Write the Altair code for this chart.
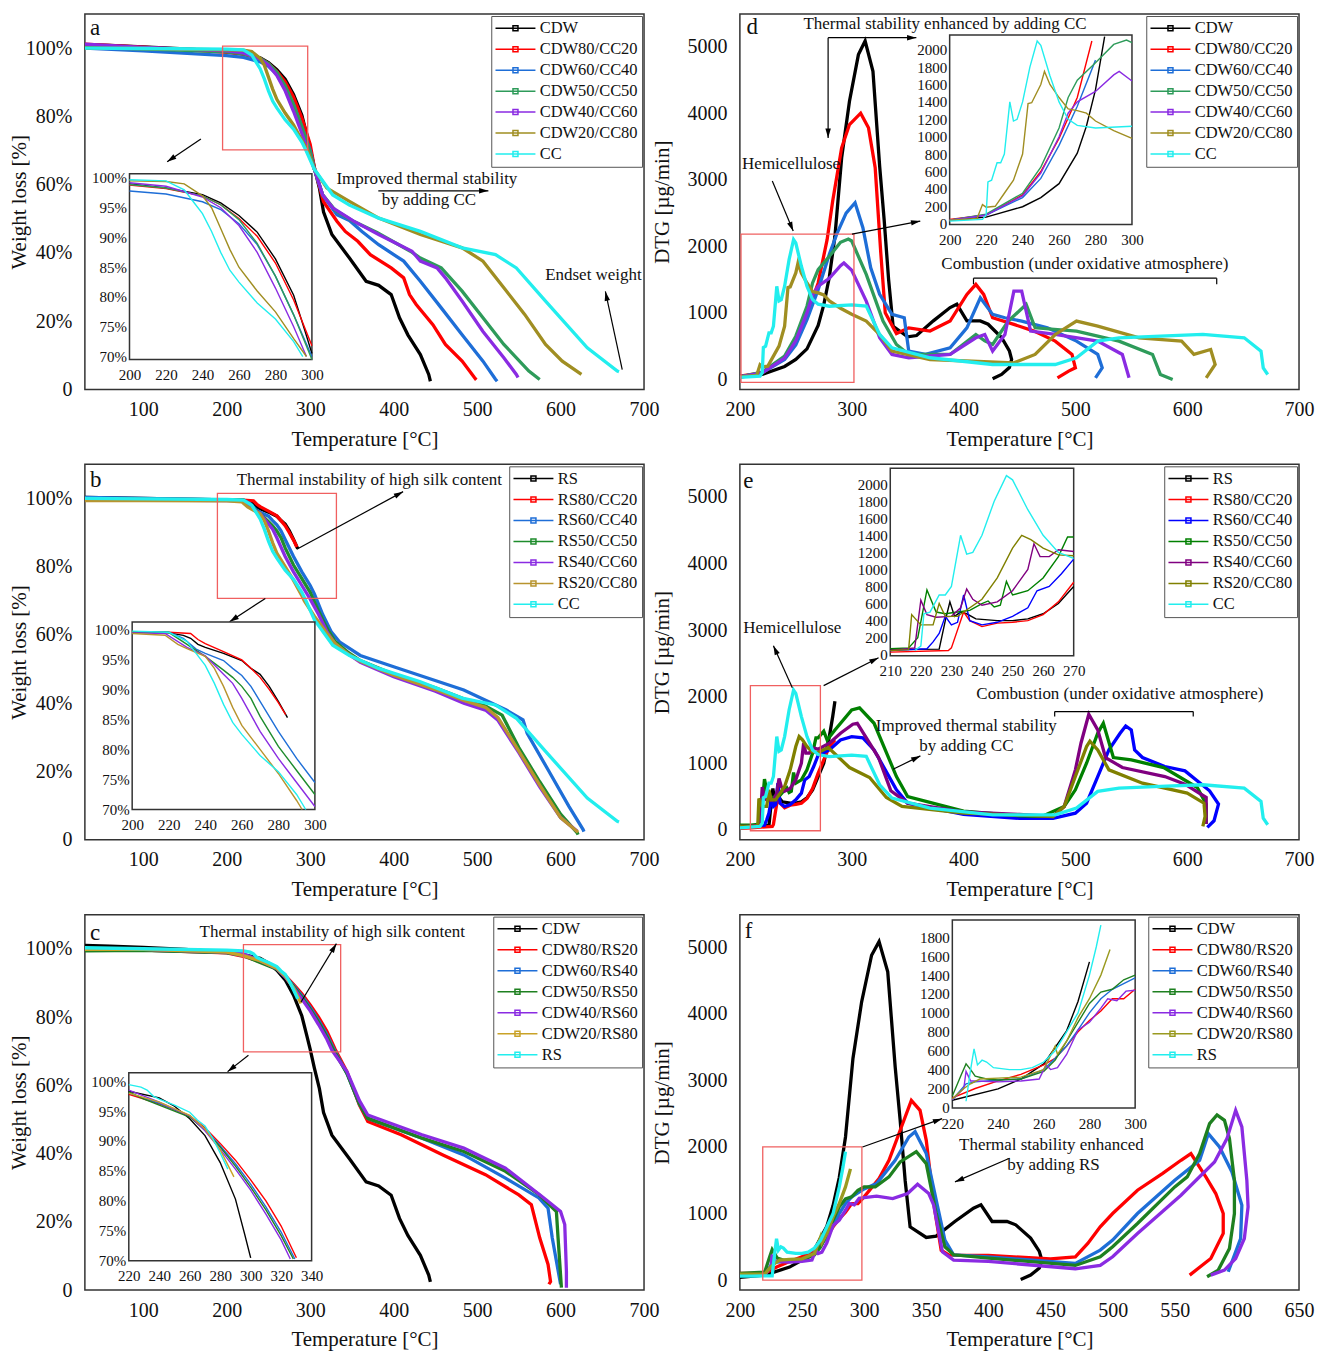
import math
import altair as alt
import pandas as pd

FONT = "Liberation Serif"
PW, PH = 560, 376
SX = PW / 564.0

# ---------------- TG data (Weight loss %) ----------------
TG_CDW_T = [30, 60, 100, 150, 200, 220, 240, 250, 260, 270, 280, 290, 296, 300, 305, 311, 316, 326, 347, 367, 382, 397, 407, 417, 432, 442, 444]
TG_CDW_W = [101.0, 100.8, 100.4, 99.8, 99.0, 98.3, 97.2, 95.8, 93.7, 90.9, 86.4, 80.3, 74.5, 70.5, 65, 59, 52, 45.4, 38.5, 31.7, 30.5, 27.8, 21, 16, 10.2, 4.4, 2.4]
TG_CC_T = [30, 100, 200, 220, 230, 235, 240, 245, 250, 255, 260, 270, 280, 290, 295, 305, 327, 347, 382, 432, 482, 522, 547, 582, 632, 668, 670]
TG_CC_W = [100.0, 99.9, 99.7, 99.5, 98.0, 96.0, 94.0, 91.0, 87.5, 84.5, 82.5, 79.0, 76.3, 72.5, 70.0, 64.5, 57, 54, 50.2, 46.3, 41.5, 39.5, 35.6, 25.9, 12.2, 5.4, 5.2]
TG_RS_T = [30, 100, 200, 220, 228, 232, 236, 240, 250, 260, 265, 270, 275, 280, 285]
TG_RS_W = [100.3, 100.0, 99.6, 99.4, 99.0, 98.5, 97.5, 97.0, 96.0, 94.8, 93.5, 92.5, 90.5, 88.0, 85.3]

A80_T = [30, 100, 200, 220, 240, 250, 260, 270, 280, 290, 300, 305, 316, 332, 342, 357, 372, 397, 412, 419, 427, 447, 462, 482, 497, 499]
A80_W = [101.2, 100.3, 98.8, 98.2, 97.0, 95.5, 93.2, 90.2, 85.7, 79.5, 71.8, 65, 55, 49.3, 46.3, 43.4, 39.5, 35.6, 32.7, 27.8, 24.9, 19, 13.2, 8.3, 3.4, 2.8]
A60_T = [30, 100, 200, 220, 240, 250, 260, 270, 280, 290, 300, 305, 315, 332, 347, 362, 382, 412, 432, 457, 482, 507, 522, 524]
A60_W = [100.0, 99.2, 97.8, 97.3, 96.0, 94.7, 92.3, 88.8, 83.5, 77.0, 70.0, 64.5, 57, 51.2, 49.5, 46.3, 42.4, 37.6, 31.7, 23.9, 16, 8.3, 3, 2.4]
A50_T = [30, 100, 200, 220, 240, 250, 260, 270, 280, 290, 300, 305, 315, 330, 350, 380, 420, 432, 457, 482, 507, 532, 562, 575]
A50_W = [100.3, 99.8, 98.9, 98.3, 97.0, 95.5, 93.0, 89.0, 83.5, 77.0, 69.5, 64.5, 57, 52.5, 49.5, 46, 40.5, 38.5, 35.6, 28.8, 21, 13.2, 5.4, 2.9]
A40_T = [30, 100, 200, 220, 240, 250, 260, 270, 280, 290, 297, 305, 315, 327, 352, 382, 422, 432, 452, 462, 482, 507, 532, 547, 549]
A40_W = [101.2, 100.2, 99.2, 98.6, 96.8, 95.0, 92.0, 87.5, 81.5, 75.0, 70.0, 64.5, 57, 53.2, 49.3, 45.4, 40.5, 37.6, 35.6, 32.7, 25.9, 17, 9.3, 4.4, 3.5]
A20_T = [30, 100, 200, 220, 230, 240, 245, 250, 255, 260, 270, 280, 290, 297, 305, 320, 347, 382, 432, 482, 507, 532, 557, 582, 602, 625]
A20_W = [100.0, 99.9, 99.5, 99.4, 99.0, 97.0, 95.0, 91.5, 88.0, 85.0, 81.0, 77.5, 73.0, 70.0, 64.5, 59, 55.1, 50.2, 45.4, 41.5, 37.6, 29.8, 22, 13.2, 8.3, 4.4]

B80_T = [30, 100, 200, 220, 232, 236, 240, 250, 260, 265, 270, 275, 280, 284]
B80_W = [100.0, 99.9, 99.6, 99.5, 99.3, 98.3, 97.6, 96.3, 94.9, 93.5, 92.0, 90.0, 87.8, 85.8]
B60_T = [30, 100, 200, 220, 228, 235, 240, 250, 255, 260, 265, 270, 280, 290, 300, 305, 315, 325, 335, 360, 400, 484, 535, 555, 560, 585, 610, 627, 628]
B60_W = [100.3, 100.0, 99.6, 99.5, 98.5, 96.7, 96.0, 94.8, 93.5, 92.3, 90.5, 88.0, 83.0, 78.5, 74.5, 72, 66, 61, 58, 54, 50.7, 43.9, 38, 35.1, 31.2, 20.5, 9.8, 3, 2.4]
B50_T = [30, 100, 200, 220, 230, 240, 250, 255, 260, 265, 270, 280, 290, 300, 310, 320, 330, 345, 360, 400, 450, 484, 510, 530, 550, 575, 600, 620, 621]
B50_W = [99.8, 99.7, 99.6, 99.5, 97.5, 95.5, 93.2, 92.0, 90.5, 88.5, 85.5, 80.5, 76.5, 72.5, 67, 62, 58, 55, 52.5, 48.5, 44.5, 41.3, 39.2, 36.5, 27, 17, 7.5, 2, 1.5]
B40_T = [30, 100, 200, 218, 230, 240, 250, 255, 260, 270, 280, 290, 300, 310, 320, 330, 345, 360, 400, 450, 484, 510, 525, 550, 575, 600, 620]
B40_W = [99.6, 99.5, 99.4, 99.3, 97.0, 95.6, 92.5, 91.0, 88.5, 83.0, 78.5, 74.5, 70.5, 66, 61, 57.3, 54.5, 52, 47.8, 43.5, 40.0, 38.0, 35.0, 25.5, 15.5, 6.5, 2.5]
B20_T = [30, 100, 200, 218, 225, 230, 240, 245, 250, 255, 260, 270, 280, 290, 293, 305, 320, 330, 345, 360, 400, 450, 484, 510, 525, 550, 575, 600, 621]
B20_W = [99.4, 99.4, 99.3, 99.0, 97.5, 96.8, 95.5, 93.5, 90.5, 87.0, 84.0, 80.0, 76.0, 71.5, 70.0, 65.5, 60.5, 57.5, 54.5, 52.3, 48.2, 44, 40.8, 38.8, 35.8, 26, 16, 6.5, 2.2]

C80_T = [30, 100, 200, 220, 240, 260, 270, 280, 290, 300, 310, 320, 330, 344, 359, 369, 409, 459, 510, 550, 565, 575, 585, 588, 586]
C80_W = [99.5, 99.6, 98.8, 97.8, 96.2, 94.2, 92.2, 89.6, 86.8, 83.5, 80.0, 75.8, 70.5, 64, 54.2, 49.4, 45.5, 39.6, 33.8, 27.9, 25, 15.3, 7.5, 2.5, 1.7]
C60_T = [30, 100, 200, 220, 240, 260, 270, 280, 290, 300, 310, 320, 329, 344, 359, 369, 434, 484, 534, 574, 585, 590, 600]
C60_W = [99.6, 99.6, 98.9, 98.0, 96.3, 94.2, 92.0, 89.2, 86.2, 82.8, 79.0, 74.8, 70.3, 63.5, 54.5, 50.3, 44.5, 39.6, 32.8, 27, 24, 15.3, 1.7]
C50_T = [30, 100, 200, 220, 230, 240, 260, 270, 280, 290, 300, 310, 320, 328, 344, 359, 369, 434, 484, 534, 574, 595, 597, 601]
C50_W = [99.4, 99.5, 98.9, 98.2, 97.0, 96.0, 94.0, 91.8, 89.0, 85.8, 82.3, 78.5, 74.2, 70.3, 63.5, 54.5, 50.3, 44.5, 40.6, 34.8, 28, 23, 15.3, 0.7]
C40_T = [30, 100, 200, 220, 240, 260, 270, 280, 290, 300, 310, 320, 326, 344, 359, 369, 434, 484, 534, 580, 600, 605, 607, 607]
C40_W = [99.8, 99.8, 99.0, 98.5, 96.5, 94.2, 91.7, 88.6, 85.3, 81.8, 77.8, 73.5, 70.3, 64, 55.5, 51.3, 45.5, 41.6, 35.7, 27, 23, 19.2, 5.5, 0.7]
C20_T = [30, 100, 200, 220, 240, 260, 270, 280, 289]
C20_W = [99.8, 99.8, 99.0, 98.0, 96.5, 94.3, 92.0, 88.5, 84.0]

# ---------------- DTG data (ug/min) ----------------
DTG_CDW_T = [200, 220, 240, 250, 260, 270, 275, 280, 285, 291, 298, 306, 312, 319, 325, 329, 333, 337, 350, 358, 373, 388, 394, 403, 415, 422, 434, 441, 443, 441, 434, 426]
DTG_CDW_V = [40, 75, 195, 300, 460, 810, 1120, 1540, 2150, 3330, 4180, 4880, 5085, 4630, 3200, 2400, 1500, 800, 640, 660, 880, 1080, 1130, 880, 880, 830, 630, 430, 300, 180, 75, 10]
DTG_CC_T = [200, 218, 220, 221, 223, 226, 228, 230, 233, 235, 237, 240, 244, 248, 250, 255, 260, 265, 270, 280, 300, 313, 325, 336, 370, 426, 482, 501, 520, 539, 576, 614, 651, 666, 668, 672]
DTG_CC_V = [30, 50, 100, 480, 500, 700, 700, 800, 1400, 1180, 1200, 1400, 1800, 2100, 2050, 1700, 1400, 1200, 1130, 1100, 1120, 1102, 676, 476, 326, 225, 225, 326, 576, 626, 651, 676, 626, 426, 175, 75]
DTG_RS_T = [200, 210, 226, 228, 229.5, 231, 233, 235, 238, 245, 250, 255, 260, 265, 270, 275, 280, 283, 285]
DTG_RS_V = [60, 60, 65, 400, 620, 450, 500, 480, 420, 400, 400, 420, 480, 600, 800, 1000, 1400, 1700, 1930]

D80_T = [200, 220, 240, 250, 260, 270, 278, 283, 291, 298, 308, 315, 321, 326, 330, 340, 351, 370, 388, 403, 411, 418, 426, 445, 463, 482, 497, 500, 494, 484]
D80_V = [50, 100, 330, 600, 980, 1450, 2100, 2680, 3480, 3830, 4000, 3780, 3180, 1900, 1000, 690, 775, 727, 877, 1278, 1428, 1278, 927, 827, 726, 576, 376, 175, 125, 25]
D60_T = [200, 220, 240, 250, 260, 270, 280, 287, 295, 303, 310, 317, 325, 336, 347, 351, 366, 388, 403, 415, 426, 437, 452, 475, 501, 520, 524, 518]
D60_V = [40, 100, 300, 520, 900, 1350, 1880, 2200, 2500, 2655, 2280, 1678, 1278, 977, 927, 426, 376, 476, 776, 1227, 977, 927, 877, 776, 576, 376, 175, 25]
D50_T = [200, 220, 240, 250, 260, 265, 270, 280, 290, 297, 300, 313, 328, 340, 351, 388, 411, 419, 426, 440, 456, 464, 501, 539, 569, 576, 587]
D50_V = [40, 110, 350, 650, 1100, 1450, 1650, 1850, 2060, 2110, 2080, 1578, 877, 526, 376, 376, 676, 580, 526, 877, 1127, 776, 726, 576, 376, 75, 0]
D40_T = [200, 220, 240, 250, 260, 265, 270, 280, 290, 293, 300, 313, 325, 336, 351, 388, 411, 419, 426, 437, 445, 452, 460, 482, 520, 542, 548]
D40_V = [40, 100, 320, 580, 1000, 1270, 1400, 1520, 1710, 1750, 1640, 1177, 626, 376, 326, 376, 626, 676, 426, 676, 1328, 1328, 726, 676, 576, 376, 25]
D20_T = [200, 215, 218, 220, 225, 230, 235, 240, 243, 245, 250, 252, 255, 260, 265, 270, 275, 280, 290, 300, 313, 325, 336, 370, 445, 464, 482, 501, 520, 557, 595, 606, 621, 625, 617]
D20_V = [40, 60, 220, 190, 200, 350, 500, 800, 1380, 1390, 1600, 1750, 1600, 1450, 1320, 1300, 1270, 1180, 1070, 980, 877, 676, 426, 300, 250, 376, 676, 877, 802, 626, 576, 376, 451, 225, 25]

E80_T = [200, 210, 229, 230, 234, 236, 240, 245, 250, 255, 260, 265, 270, 275, 280, 285]
E80_V = [20, 30, 50, 80, 500, 400, 330, 370, 380, 400, 470, 620, 850, 1050, 1250, 1350]
E60_T = [200, 210, 222, 224, 226, 228, 230, 232, 234, 236, 240, 245, 250, 255, 258, 262, 266, 270, 280, 290, 300, 310, 320, 330, 340, 350, 400, 450, 480, 500, 510, 520, 530, 540, 545, 550, 553, 560, 580, 598, 620, 628, 624, 618]
E60_V = [50, 50, 70, 150, 250, 450, 350, 380, 700, 400, 350, 380, 450, 550, 750, 800, 950, 1120, 1200, 1350, 1400, 1380, 1200, 900, 600, 400, 230, 170, 170, 250, 400, 800, 1200, 1450, 1560, 1500, 1200, 1085, 950, 885, 585, 385, 135, 35]
E50_T = [200, 210, 216, 219, 222, 225, 228, 232, 236, 240, 242, 244, 246, 248, 250, 255, 260, 265, 268, 270, 275, 278, 285, 300, 307, 320, 330, 340, 350, 400, 450, 470, 490, 500, 510, 520, 525, 534, 550, 579, 609, 617, 617]
E50_V = [70, 70, 80, 200, 760, 500, 480, 500, 520, 600, 630, 560, 580, 860, 700, 750, 900, 1150, 1380, 1380, 1480, 1350, 1500, 1800, 1830, 1600, 1200, 800, 500, 280, 210, 200, 350, 600, 1000, 1450, 1600, 1085, 1050, 935, 635, 385, 85]
E40_T = [200, 210, 218, 220, 222, 225, 230, 233, 235, 237, 240, 245, 250, 255, 257, 259, 262, 265, 270, 280, 290, 301, 305, 324, 335, 350, 400, 450, 480, 490, 500, 505, 512, 520, 527, 542, 580, 598, 617, 617]
E40_V = [50, 50, 80, 640, 470, 440, 450, 550, 770, 650, 580, 620, 750, 1000, 1300, 1150, 1150, 1230, 1210, 1300, 1450, 1585, 1600, 1085, 585, 400, 270, 230, 200, 350, 900, 1300, 1735, 1500, 1085, 935, 800, 685, 485, 85]
E20_T = [200, 210, 216, 217, 220, 224, 226, 228, 232, 240, 245, 250, 253, 256, 260, 265, 270, 279, 298, 316, 331, 345, 400, 450, 480, 490, 500, 510, 513, 520, 530, 560, 600, 615, 616, 614]
E20_V = [50, 50, 60, 470, 350, 350, 600, 450, 450, 650, 900, 1250, 1400, 1350, 1250, 1170, 1160, 1235, 935, 785, 485, 350, 250, 220, 200, 350, 800, 1250, 1330, 1200, 900, 700, 550, 400, 200, 50]

F80_T = [200, 220, 230, 240, 250, 260, 265, 270, 275, 280, 285, 290, 295, 300, 312, 320, 330, 338, 345, 350, 356, 362, 368, 375, 400, 450, 470, 480, 490, 500, 520, 540, 555, 563, 575, 583, 589, 589, 579, 562]
F80_V = [100, 100, 200, 280, 350, 450, 520, 650, 800, 920, 1020, 1150, 1150, 1250, 1525, 1800, 2300, 2700, 2550, 2100, 1150, 450, 380, 370, 370, 320, 350, 550, 800, 1000, 1350, 1600, 1800, 1900, 1550, 1300, 1000, 700, 325, 75]
F60_T = [200, 220, 226, 230, 240, 250, 260, 265, 270, 275, 280, 285, 290, 300, 310, 325, 336, 341, 350, 358, 365, 372, 400, 470, 490, 500, 520, 550, 570, 577, 586, 596, 604, 603, 593]
F60_V = [90, 80, 250, 270, 290, 300, 400, 520, 650, 820, 1000, 1150, 1250, 1370, 1450, 1800, 2150, 2230, 1900, 1200, 600, 380, 350, 250, 450, 600, 1000, 1500, 1800, 2200, 2000, 1625, 1125, 625, 125]
F50_T = [200, 220, 224, 226, 228, 230, 235, 240, 250, 260, 265, 270, 275, 280, 285, 290, 295, 300, 309, 320, 329, 342, 350, 358, 365, 372, 400, 470, 490, 500, 520, 550, 560, 570, 578, 584, 590, 594, 598, 598, 594, 585, 576]
F50_V = [100, 120, 350, 460, 400, 330, 300, 290, 300, 380, 500, 700, 900, 1100, 1220, 1250, 1350, 1400, 1400, 1550, 1775, 1930, 1750, 1000, 500, 380, 330, 220, 350, 500, 850, 1400, 1550, 1900, 2350, 2480, 2400, 2125, 1500, 1000, 475, 150, 50]
F40_T = [200, 220, 225, 226, 228, 230, 240, 250, 258, 261, 263, 266, 270, 275, 280, 285, 288, 292, 296, 300, 310, 323, 335, 343, 352, 356, 363, 372, 400, 470, 490, 500, 520, 555, 582, 592, 599, 604, 608, 609, 606, 599, 590, 579]
F40_V = [80, 80, 200, 380, 280, 280, 270, 280, 300, 450, 400, 420, 560, 820, 900, 1050, 1150, 1130, 1230, 1240, 1260, 1225, 1300, 1440, 1300, 1125, 425, 300, 280, 170, 220, 350, 700, 1275, 1775, 2125, 2550, 2300, 1500, 1100, 625, 325, 150, 75]
F20_T = [200, 220, 225, 228, 232, 240, 250, 260, 265, 266, 270, 275, 280, 285, 289]
F20_V = [90, 90, 200, 250, 300, 310, 320, 400, 650, 560, 700, 950, 1150, 1400, 1670]

NAMES_A = ["CDW", "CDW80/CC20", "CDW60/CC40", "CDW50/CC50", "CDW40/CC60", "CDW20/CC80", "CC"]
NAMES_B = ["RS", "RS80/CC20", "RS60/CC40", "RS50/CC50", "RS40/CC60", "RS20/CC80", "CC"]
NAMES_C = ["CDW", "CDW80/RS20", "CDW60/RS40", "CDW50/RS50", "CDW40/RS60", "CDW20/RS80", "RS"]

COL_A = ["#000000", "#FF0000", "#1E6ED7", "#2E9B5A", "#8A2BE2", "#A08E22", "#22EEEE"]
COL_B = ["#000000", "#FF0000", "#1E6ED7", "#1E8C2C", "#8A2BE2", "#B8942E", "#22EEEE"]
COL_E = ["#000000", "#FF0000", "#0000FF", "#008000", "#800080", "#808000", "#22EEEE"]
COL_C = ["#000000", "#FF0000", "#1E6ED7", "#1E8020", "#8A2BE2", "#C9A227", "#22EEEE"]
COL_F = ["#000000", "#FF0000", "#1E6ED7", "#1E8020", "#8A2BE2", "#9A9A20", "#22EEEE"]

LEG_SYMBOL = "M-4,0L4,0M-0.5,-0.5L0.5,-0.5L0.5,0.5L-0.5,0.5Z"
ARROW = "M0,0L-0.5,1.7L0.5,1.7Z"


def make_df(names, series):
    rows = []
    for n, (ts, vs) in zip(names, series):
        for i, (t, v) in enumerate(zip(ts, vs)):
            rows.append({"s": n, "i": i, "x": t, "y": v})
    return pd.DataFrame(rows)


def axis(**kw):
    base = dict(grid=False, ticks=False, domain=False, labelFlush=False, labelOverlap=False,
                labelColor="#111111", titleColor="#111111", labelFont=FONT, titleFont=FONT,
                titleFontWeight="normal")
    base.update(kw)
    return alt.Axis(**base)


def panel(names, colors, series, xdom, ydom, xvals, yvals, ylab, ytitle, ytitlex,
          letter, texts, arrows, segs, box, ins, yfmt=None, iyfmt=None):
    df = make_df(names, series)
    ixr = [v * SX for v in ins["xr"]]

    def xs():
        return alt.Scale(domain=xdom, nice=False, zero=False)

    def ys():
        return alt.Scale(domain=ydom, nice=False, zero=False)

    def ixs():
        return alt.Scale(domain=ins["xdom"], range=ixr, nice=False, zero=False)

    def iys():
        return alt.Scale(domain=ins["ydom"], range=ins["yr"], nice=False, zero=False)

    cs = alt.Scale(domain=names, range=colors)

    xk = dict(values=xvals, title="Temperature [°C]", labelFontSize=20, labelPadding=10,
              titleFontSize=21, titleY=50, titleBaseline="middle")
    yk = dict(values=yvals, title=ytitle, labelFontSize=20, labelPadding=13,
              titleFontSize=21, titleX=ytitlex, titleBaseline="middle")
    if ylab:
        yk["labelExpr"] = ylab
    if yfmt:
        yk["format"] = yfmt
    leg = alt.Legend(title=None, orient="top-right", offset=2, padding=4, strokeColor="#555555",
                     fillColor="white", labelFont=FONT, labelFontSize=16.5,
                     labelColor="#111111", symbolType=LEG_SYMBOL, symbolSize=100,
                     symbolStrokeWidth=1.5, symbolOffset=12, labelOffset=16, rowPadding=4)
    lines = alt.Chart(df).mark_line(strokeWidth=3.3, clip=True).encode(
        x=alt.X("x:Q", scale=xs(), axis=axis(**xk)),
        y=alt.Y("y:Q", scale=ys(), axis=axis(**yk)),
        color=alt.Color("s:N", scale=cs, legend=leg),
        order=alt.Order("i:Q"),
    )
    bx = pd.DataFrame([{"x": box[0], "x2": box[1], "y": box[2], "y2": box[3]}])
    boxl = alt.Chart(bx).mark_rect(fillOpacity=0, stroke="#F06060", strokeWidth=1.3).encode(
        x=alt.X("x:Q", scale=xs(), axis=None), x2="x2:Q",
        y=alt.Y("y:Q", scale=ys(), axis=None), y2="y2:Q")

    kx = PW / (xdom[1] - xdom[0])
    ky = PH / (ydom[1] - ydom[0])
    segrows, heads = [], []
    for (x1, y1, x2, y2) in arrows:
        segrows.append({"x": x1, "y": y1, "x2": x2, "y2": y2})
        ang = math.degrees(math.atan2((x2 - x1) * kx, (y2 - y1) * ky)) % 360
        heads.append({"x": x2, "y": y2, "a": ang})
    for (x1, y1, x2, y2) in segs:
        segrows.append({"x": x1, "y": y1, "x2": x2, "y2": y2})
    rules = alt.Chart(pd.DataFrame(segrows)).mark_rule(color="black", strokeWidth=1.2).encode(
        x=alt.X("x:Q", scale=xs(), axis=None), x2="x2:Q",
        y=alt.Y("y:Q", scale=ys(), axis=None), y2="y2:Q")
    hl = alt.Chart(pd.DataFrame(heads)).mark_point(shape=ARROW, filled=True, size=120,
                                                   color="black", opacity=1).encode(
        x=alt.X("x:Q", scale=xs(), axis=None),
        y=alt.Y("y:Q", scale=ys(), axis=None),
        angle=alt.Angle("a:Q", scale=None))
    tx = pd.DataFrame(texts, columns=["x", "y", "t"])
    txl = alt.Chart(tx).mark_text(font=FONT, fontSize=17, align="center", baseline="middle",
                                  color="#111111").encode(
        x=alt.X("x:Q", scale=xs(), axis=None), y=alt.Y("y:Q", scale=ys(), axis=None), text="t:N")
    lt = pd.DataFrame([letter], columns=["x", "y", "t"])
    ltl = alt.Chart(lt).mark_text(font=FONT, fontSize=23, align="left", baseline="middle",
                                  color="#111111").encode(
        x=alt.X("x:Q", scale=xs(), axis=None), y=alt.Y("y:Q", scale=ys(), axis=None), text="t:N")

    ix0, ix1 = ins["xdom"]
    iy0, iy1 = ins["ydom"]
    idf = df[(df.x >= ix0) & (df.x <= ix1) & (df.y >= iy0) & (df.y <= iy1)]
    ibg = alt.Chart(pd.DataFrame([{"x": ix0, "x2": ix1, "y": iy0, "y2": iy1}])).mark_rect(
        fill="white", stroke="#333333", strokeWidth=1.5).encode(
        x=alt.X("x:Q", scale=ixs(), axis=None), x2="x2:Q",
        y=alt.Y("y:Q", scale=iys(), axis=None), y2="y2:Q")
    iyk = dict(orient="left", offset=-ixr[0], values=ins["yvals"], title=None,
               labelFontSize=15, labelPadding=3)
    if ins.get("ylab"):
        iyk["labelExpr"] = ins["ylab"]
    if iyfmt:
        iyk["format"] = iyfmt
    ilines = alt.Chart(idf).mark_line(strokeWidth=1.4).encode(
        x=alt.X("x:Q", scale=ixs(), axis=axis(orient="bottom", offset=-(PH - ins["yr"][0]),
                                               values=ins["xvals"], title=None, labelFontSize=15,
                                               labelPadding=8)),
        y=alt.Y("y:Q", scale=iys(), axis=axis(**iyk)),
        color=alt.Color("s:N", scale=cs, legend=None),
        order=alt.Order("i:Q"),
    )
    return alt.layer(lines, boxl, rules, hl, txl, ltl, ibg, ilines).resolve_scale(
        x="independent", y="independent").properties(width=PW, height=PH)


TGX = [100, 200, 300, 400, 500, 600, 700]
TGY = [0, 20, 40, 60, 80, 100]
TGLAB = "datum.value == 0 ? '0' : datum.value + '%'"
DTGY = [0, 1000, 2000, 3000, 4000, 5000]
DX = [-150, 5490]

pa = panel(NAMES_A, COL_A,
           [(TG_CDW_T, TG_CDW_W), (A80_T, A80_W), (A60_T, A60_W), (A50_T, A50_W),
            (A40_T, A40_W), (A20_T, A20_W), (TG_CC_T, TG_CC_W)],
           [30, 700], [0, 110], TGX, TGY, TGLAB, "Weight loss [%]", -65,
           (36, 106, "a"),
           [(439.8, 61.7, "Improved thermal stability"), (442.2, 55.6, "by adding CC"),
            (639.4, 33.6, "Endset weight")],
           [(169, 73.4, 128.6, 66.7), (381.6, 58.2, 513.5, 58.2), (673.9, 5.8, 653.7, 28.7)],
           [], (195, 297, 70.2, 100.6),
           dict(xdom=[200, 300], ydom=[69.5, 100.7], xr=[45, 229], yr=[346, 160],
                xvals=[200, 220, 240, 260, 280, 300], yvals=[70, 75, 80, 85, 90, 95, 100],
                ylab="datum.value + '%'"))

pd_ = panel(NAMES_A, COL_A,
            [(DTG_CDW_T, DTG_CDW_V), (D80_T, D80_V), (D60_T, D60_V), (D50_T, D50_V),
             (D40_T, D40_V), (D20_T, D20_V), (DTG_CC_T, DTG_CC_V)],
            [200, 700], DX, [200, 300, 400, 500, 600, 700], DTGY, None, "DTG [µg/min]", -77,
            (206, 5290, "d"),
            [(383.5, 5346, "Thermal stability enhanced by adding CC"), (245.8, 3238, "Hemicellulose"),
             (508.5, 1732, "Combustion (under oxidative atmosphere)")],
            [(278.9, 5135, 357.8, 5135), (278.9, 5135, 278.9, 3629), (300.2, 2184, 361.3, 2379),
             (229, 2982, 247.7, 2229)],
            [(408.9, 1521, 626.4, 1521), (408.9, 1521, 408.9, 1431), (626.4, 1521, 626.4, 1431)],
            (201, 302, -45, 2184),
            dict(xdom=[200, 300], ydom=[-8, 2170], xr=[211.6, 395.5], yr=[210.7, 20.9],
                 xvals=[200, 220, 240, 260, 280, 300], yvals=list(range(0, 2001, 200))),
            yfmt="d", iyfmt="d")

pb = panel(NAMES_B, COL_B,
           [(TG_RS_T, TG_RS_W), (B80_T, B80_W), (B60_T, B60_W), (B50_T, B50_W),
            (B40_T, B40_W), (B20_T, B20_W), (TG_CC_T, TG_CC_W)],
           [30, 700], [0, 110], TGX, TGY, TGLAB, "Weight loss [%]", -65,
           (36, 105.4, "b"),
           [(370.9, 105.4, "Thermal instability of high silk content")],
           [(283.9, 85.1, 411.3, 102), (246.2, 70.7, 203.4, 63.9)],
           [], (188.8, 331.4, 70.7, 101.5),
           dict(xdom=[200, 300], ydom=[70, 101.2], xr=[47.7, 232], yr=[345.7, 158],
                xvals=[200, 220, 240, 260, 280, 300], yvals=[70, 75, 80, 85, 90, 95, 100],
                ylab="datum.value + '%'"))

pe = panel(NAMES_B, COL_E,
           [(DTG_RS_T, DTG_RS_V), (E80_T, E80_V), (E60_T, E60_V), (E50_T, E50_V),
            (E40_T, E40_V), (E20_T, E20_V), (DTG_CC_T, DTG_CC_V)],
           [200, 700], DX, [200, 300, 400, 500, 600, 700], DTGY, None, "DTG [µg/min]", -77,
           (203, 5240, "e"),
           [(246.9, 3035, "Hemicellulose"), (539.8, 2034, "Combustion (under oxidative atmosphere)"),
            (402.5, 1565, "Improved thermal stability"), (402.5, 1265, "by adding CC")],
           [(274.9, 2165, 324, 2585), (246.9, 2135, 230, 2765), (337, 909, 361.4, 1110)],
           [(481.5, 1775, 605.4, 1775), (481.5, 1775, 481.5, 1700), (605.4, 1775, 605.4, 1700)],
           (209.4, 272, -15, 2165),
           dict(xdom=[210, 270], ydom=[-12, 2185], xr=[151.7, 336.7], yr=[191.7, 4],
                xvals=[210, 220, 230, 240, 250, 260, 270], yvals=list(range(0, 2001, 200))),
           yfmt="d", iyfmt="d")

pc = panel(NAMES_C, COL_C,
           [(TG_CDW_T, TG_CDW_W), (C80_T, C80_W), (C60_T, C60_W), (C50_T, C50_W),
            (C40_T, C40_W), (C20_T, C20_W), (TG_RS_T, TG_RS_W)],
           [30, 700], [0, 110], TGX, TGY, TGLAB, "Weight loss [%]", -65,
           (36, 104.7, "c"),
           [(326.4, 105, "Thermal instability of high silk content")],
           [(289, 84.4, 331.4, 101.5), (226, 68.8, 201, 64)],
           [], (220, 336.5, 69.8, 101.2),
           dict(xdom=[220, 340], ydom=[70, 101.4], xr=[44.3, 228.7], yr=[346.7, 158.3],
                xvals=[220, 240, 260, 280, 300, 320, 340], yvals=[70, 75, 80, 85, 90, 95, 100],
                ylab="datum.value + '%'"))

pf = panel(NAMES_C, COL_F,
           [(DTG_CDW_T, DTG_CDW_V), (F80_T, F80_V), (F60_T, F60_V), (F50_T, F50_V),
            (F40_T, F40_V), (F20_T, F20_V), (DTG_RS_T, DTG_RS_V)],
           [200, 650], DX, [200, 250, 300, 350, 400, 450, 500, 550, 600, 650], DTGY, None,
           "DTG [µg/min]", -77,
           (204, 5250, "f"),
           [(450.7, 2035, "Thermal stability enhanced"), (452.4, 1725, "by adding RS")],
           [(298.7, 2000, 362.8, 2425), (417, 1830, 373.1, 1475)],
           [], (218.4, 298.2, 0, 2000),
           dict(xdom=[220, 300], ydom=[-7, 1984], xr=[214.3, 398.7], yr=[193.7, 5.3],
                xvals=[220, 240, 260, 280, 300], yvals=list(range(0, 1801, 200))),
           yfmt="d", iyfmt="d")

chart = alt.concat(pa, pd_, pb, pe, pc, pf, columns=2, spacing={"row": 75, "column": 96},
                   bounds="flush").resolve_scale(color="independent").properties(
    padding={"left": 0, "top": 4, "right": 0, "bottom": 0}).configure(
    font=FONT).configure_view(stroke="#333333", strokeWidth=1.5)

chart.save("out.html", embed_options={"renderer": "svg", "actions": False})
